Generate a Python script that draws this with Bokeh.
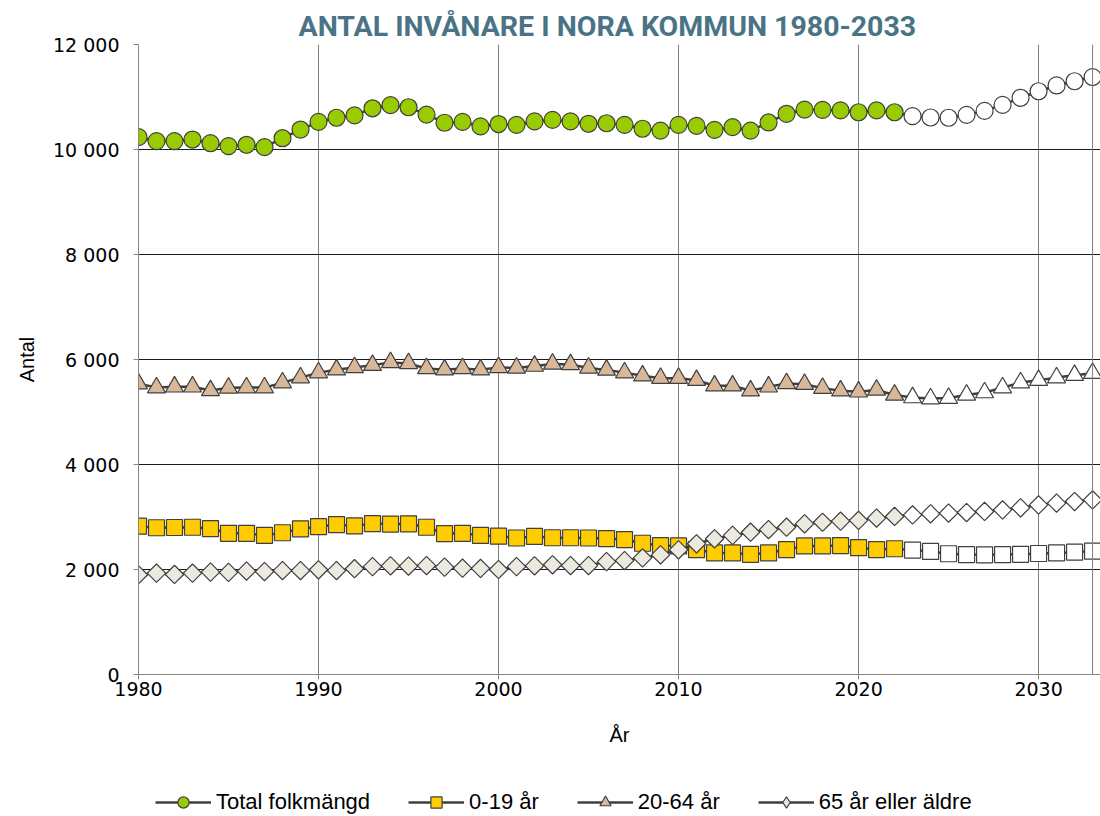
import math
from bokeh.plotting import figure
from bokeh.layouts import column
from bokeh.models import FixedTicker, Legend, LegendItem, Span, Range1d
from bokeh.embed import file_html
from bokeh.resources import INLINE

# ---------------- data ----------------
years = list(range(1980, 2034))
first_projection_year = 2023

total = [10235, 10160, 10160, 10190, 10120, 10065, 10090, 10045, 10215, 10380,
         10525, 10605, 10650, 10785, 10845, 10805, 10665, 10510, 10525, 10440,
         10485, 10470, 10535, 10565, 10535, 10490, 10500, 10470, 10395, 10360,
         10470, 10450, 10375, 10425, 10360, 10515, 10680, 10760, 10755, 10745,
         10710, 10745, 10710,
         10635, 10610, 10605, 10660, 10735, 10850, 10985, 11110, 11220, 11300, 11380]

age_0_19 = [2825, 2795, 2800, 2805, 2780, 2690, 2690, 2650, 2700, 2775,
            2815, 2855, 2830, 2875, 2865, 2870, 2805, 2685, 2690, 2650,
            2635, 2600, 2630, 2605, 2605, 2600, 2590, 2570, 2500, 2455,
            2450, 2380, 2315, 2315, 2290, 2315, 2380, 2450, 2450, 2455,
            2415, 2380, 2395,
            2370, 2345, 2300, 2285, 2280, 2285, 2290, 2305, 2315, 2330, 2350]

age_20_64 = [5540, 5465, 5480, 5480, 5410, 5460, 5465, 5465, 5560, 5655,
             5750, 5805, 5850, 5890, 5945, 5925, 5830, 5805, 5830, 5805,
             5850, 5840, 5875, 5915, 5905, 5840, 5800, 5750, 5690, 5645,
             5645, 5605, 5500, 5500, 5405, 5480, 5545, 5530, 5455, 5405,
             5385, 5420, 5325,
             5275, 5255, 5265, 5325, 5370, 5465, 5560, 5605, 5655, 5700, 5740]

age_65_plus = [1900, 1930, 1905, 1930, 1950, 1945, 1970, 1960, 1980, 1980,
               1995, 1980, 2015, 2055, 2070, 2065, 2075, 2045, 2025, 2020,
               2000, 2055, 2070, 2090, 2075, 2075, 2150, 2170, 2220, 2280,
               2375, 2490, 2585, 2650, 2710, 2760, 2805, 2870, 2900, 2920,
               2935, 2980, 3010,
               3040, 3060, 3075, 3085, 3105, 3135, 3175, 3230, 3265, 3295, 3325]

series_names = ["Total folkmängd", "0-19 år", "20-64 år", "65 år eller äldre"]
y_ticks = [0, 2000, 4000, 6000, 8000, 10000, 12000]
x_ticks = [1980, 1990, 2000, 2010, 2020, 2030]
x_start, x_end = 1980, 2033

title_text = "ANTAL INVÅNARE I NORA KOMMUN 1980-2033"
x_label = "År"
y_label = "Antal"

# ---------------- main figure ----------------
p = figure(width=1100, height=766, output_backend="svg", toolbar_location=None,
           x_range=(x_start, x_end + 0.44), y_range=(0, 12000),
           min_border_left=138, min_border_right=0,
           min_border_top=44, min_border_bottom=92)

p.title.text = title_text
p.title.align = "left"
p.title.offset = 160
p.title.text_font = "Roboto"
p.title.text_font_style = "bold"
p.title.text_font_size = "28.5px"
p.title.text_color = "#4A7486"
p.title.standoff = 3

p.background_fill_color = "white"
p.border_fill_color = "white"
p.outline_line_color = None

p.xgrid.ticker = FixedTicker(ticks=x_ticks)
p.ygrid.ticker = FixedTicker(ticks=y_ticks)
p.xgrid.grid_line_color = "#7f7f7f"
p.ygrid.grid_line_color = "#1a1a1a"
p.xgrid.grid_line_width = 1
p.ygrid.grid_line_width = 1

# right border of the plot area at the last year
p.add_layout(Span(location=x_end, dimension="height", line_color="#7f7f7f", line_width=1))

p.xaxis.ticker = FixedTicker(ticks=x_ticks)
p.yaxis.ticker = FixedTicker(ticks=y_ticks)
p.yaxis.major_label_overrides = {v: f"{v:,}".replace(",", " ") for v in y_ticks}

for ax in (p.xaxis[0], p.yaxis[0]):
    ax.axis_line_color = "#868686"
    ax.major_tick_line_color = "#868686"
    ax.major_tick_out = 5
    ax.major_tick_in = 0
    ax.minor_tick_line_color = None
    ax.major_label_text_font = "DejaVu Sans"
    ax.major_label_text_font_size = "19px"
    ax.major_label_text_color = "#000000"
    ax.axis_label_text_font = "Liberation Sans"
    ax.axis_label_text_font_size = "20px"
    ax.axis_label_text_font_style = "normal"
    ax.axis_label_text_color = "#000000"

p.xaxis.axis_label = x_label
p.yaxis.axis_label = y_label
p.xaxis.major_label_standoff = 2
p.xaxis.axis_label_standoff = 25
p.yaxis.major_label_standoff = 14
p.yaxis.axis_label_standoff = 12

# ---------------- legend strip (own small figure) ----------------
lg = figure(width=1100, height=50, output_backend="svg", toolbar_location=None,
            x_axis_location=None, y_axis_location=None,
            x_range=Range1d(0, 1), y_range=Range1d(0, 1),
            min_border=0, min_border_left=0, min_border_right=0,
            min_border_top=0, min_border_bottom=0)
lg.grid.visible = False
lg.outline_line_color = None
lg.background_fill_color = "white"
lg.border_fill_color = "white"

# ---------------- series ----------------
n_hist = years.index(first_projection_year)

styles = [
    (total, "circle", "circle", "#99CC00", 17, 0.0),
    (age_0_19, "square", "square", "#FFCC00", 16, 0.0),
    (age_20_64, "triangle", "triangle", "#D9B89A", 18, 0.0),
    (age_65_plus, "square", "diamond", "#ECE9DF", 13, math.pi / 4),
]

items = []
for name, (vals, marker, legend_marker, color, size, angle) in zip(series_names, styles):
    line_kw = dict(line_color="#3f3f3f", line_width=2.5)
    mk_kw = dict(size=size, angle=angle, line_color="#3f3f3f", line_width=1.2)
    p.line(years, vals, **line_kw)
    p.scatter(years[:n_hist], vals[:n_hist], marker=marker, fill_color=color, **mk_kw)
    p.scatter(years[n_hist:], vals[n_hist:], marker=marker, fill_color="white", **mk_kw)
    # same series in the legend strip (outside its visible range) so the legend can show the glyphs
    l_line = lg.line(years, vals, **line_kw)
    l_mk = lg.scatter(years[:n_hist], vals[:n_hist], marker=legend_marker, fill_color=color,
                      size=size, line_color="#3f3f3f", line_width=1.2)
    items.append(LegendItem(label=name, renderers=[l_line, l_mk]))

legend = Legend(items=items, orientation="horizontal", location=(17, 0),
                glyph_width=56, glyph_height=28, label_height=28,
                label_standoff=5, spacing=38, padding=0, margin=0,
                label_text_font="Liberation Sans", label_text_font_size="22px",
                label_text_color="#000000",
                border_line_color=None, background_fill_alpha=0)
lg.add_layout(legend, "center")

layout = column(p, lg, spacing=0)
open("out.html", "w").write(file_html(layout, INLINE))
